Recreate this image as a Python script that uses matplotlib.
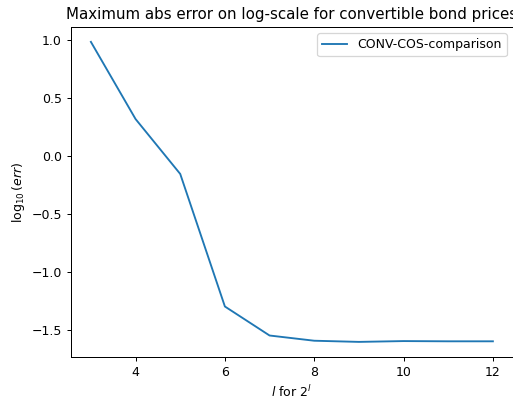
import numpy as np
import matplotlib.pyplot as plt

# Exponent l of the grid size 2^l and log10 of the max abs error.
levels = [3, 4, 5, 6, 7, 8, 9, 10, 11, 12]
log_err = [0.98, 0.315, -0.158, -1.30, -1.55, -1.595, -1.605, -1.598, -1.60, -1.60]

# the reference looks like a default figure shrunk to ~90%, so render at dpi 90
fig = plt.figure(figsize=(513 / 90, 401 / 90), dpi=90)
ax = fig.add_axes([0.138, 0.11, 0.862, 0.823])
ax.plot(levels, log_err, label="CONV-COS-comparison")
ax.set_title("Maximum abs error on log-scale for convertible bond prices")
ax.set_xlabel("$l$ for $2^l$")
ax.set_ylabel(r"$\log_{10}(err)$")
ax.legend(loc="upper right")
fig.savefig("out.png", dpi=90)
